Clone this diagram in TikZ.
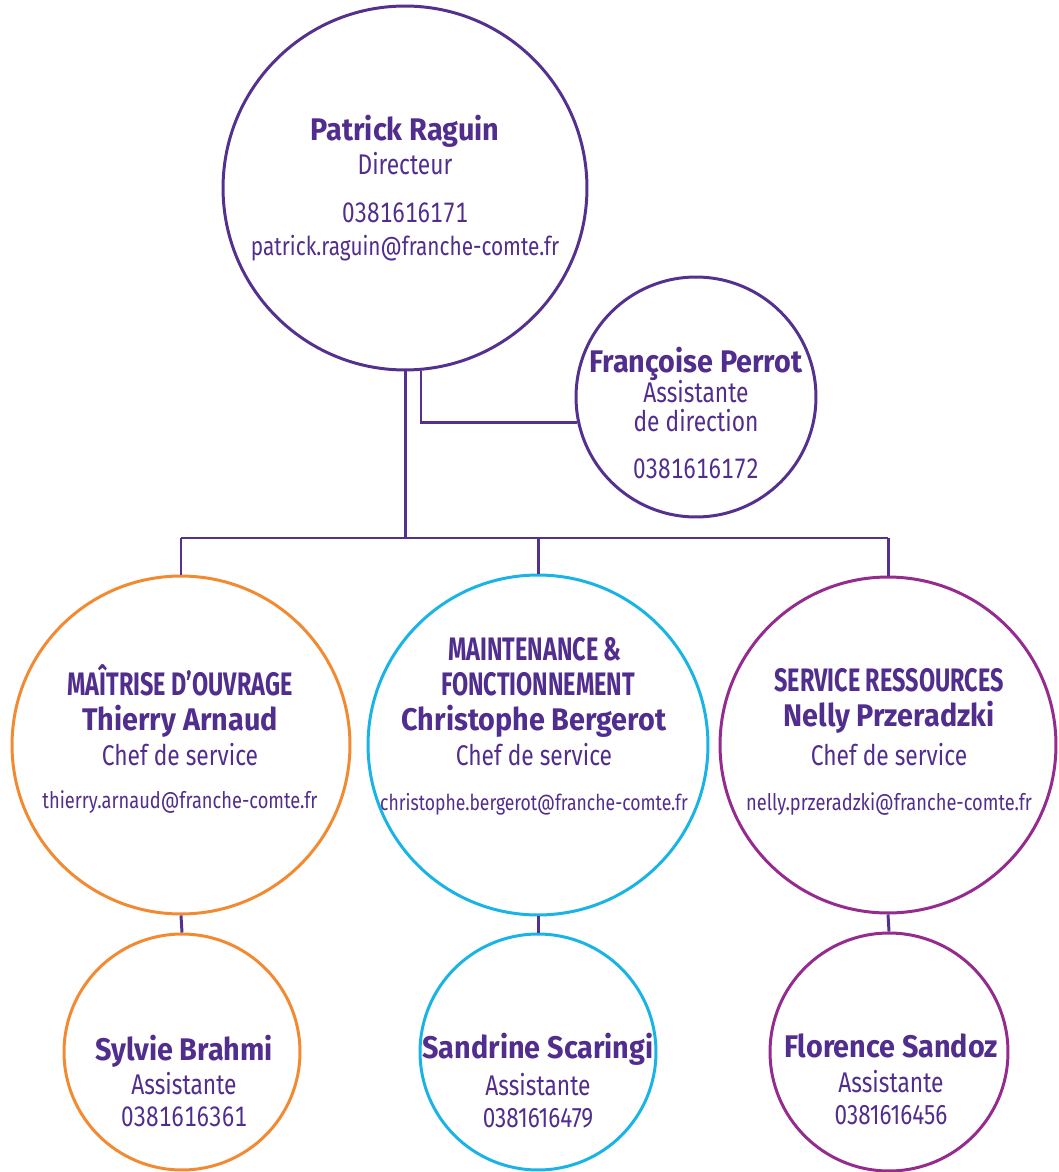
\documentclass[tikz,border=0pt]{standalone}
\usepackage{fontspec}
\setmainfont{Fira Sans}
\newfontfamily\regf[FakeStretch=0.8]{Fira Sans}
\newfontfamily\tabf[FakeStretch=0.8,Numbers=Monospaced]{Fira Sans}
\newfontfamily\namef[FakeStretch=0.92]{Fira Sans}
\newfontfamily\headf[FakeStretch=0.72]{Fira Sans}
\definecolor{txt}{HTML}{512D8D}
\definecolor{lnp}{HTML}{54318F}
\definecolor{org}{HTML}{F28A32}
\definecolor{cyn}{HTML}{1AB3E6}
\definecolor{mag}{HTML}{952A8F}
\tikzset{
 circ/.style={circle, draw, line width=1.7pt, inner sep=0pt, minimum size=#1},
 conn/.style={draw=lnp, line width=1.7pt},
 nm/.style={text=txt, anchor=base, inner sep=0pt, font=\namef\bfseries\fontsize{17.8}{20}\selectfont},
 rl/.style={text=txt, anchor=base, inner sep=0pt, font=\regf\fontsize{16.2}{19}\selectfont},
 hd/.style={text=txt, anchor=base, inner sep=0pt, font=\headf\bfseries\fontsize{18.5}{21}\selectfont},
 ml/.style={text=txt, anchor=base, inner sep=0pt, font=\regf\fontsize{13}{16}\selectfont},
 ph/.style={text=txt, anchor=base, inner sep=0pt, font=\regf\fontsize{16}{18}\selectfont},
 pht/.style={text=txt, anchor=base, inner sep=0pt, font=\tabf\fontsize{16}{18}\selectfont},
}
\begin{document}
\begin{tikzpicture}[x=0.02cm,y=-0.02cm]
\useasboundingbox (0,0) rectangle (1058,1172);
% circles
\node[circ=7.28cm, draw=lnp] (top) at (405,188) {};
\node[circ=4.8cm, draw=lnp] (fr) at (696,397) {};
\node[circ=6.76cm, draw=org] (A) at (181,745) {};
\node[circ=6.8cm, draw=cyn] (B) at (538,745) {};
\node[circ=6.72cm, draw=mag] (C) at (888,745) {};
\node[circ=4.72cm, draw=org] (A2) at (182,1052) {};
\node[circ=4.72cm, draw=cyn] (B2) at (538,1052) {};
\node[circ=4.76cm, draw=mag] (C2) at (889,1052) {};
% connectors
\coordinate (bus) at (405,538);
\coordinate (busL) at (181,538);
\coordinate (busR) at (888,538);
\draw[conn] (top.south) -- (bus);
\draw[conn] (top.-85.3) |- (fr.192);
\draw[conn] (busL) -- (busR);
\draw[conn] (A.north) -- (busL);
\draw[conn] (B.north) -- (B.north |- bus);
\draw[conn] (C.north) -- (busR);
\draw[conn] (A.south) -- (A2.north);
\draw[conn] (B.south) -- (B2.north);
\draw[conn] (C.south) -- (C2.north);
% top texts
\node[nm] (t1) at (405,141) {Patrick Raguin};
\node[rl] (t2) at (405,175) {Directeur};
\node[pht] (t3) at (405,223) {0381616171};
\node[ml, font=\regf\fontsize{14.8}{17}\selectfont] (t4) at (405,256) {patrick.raguin@franche-comte.fr};
% Francoise
\node[nm] (f1) at (696,372) {Françoise Perrot};
\node[rl] (f2) at (696,402) {Assistante};
\node[rl] (f3) at (696,431) {de direction};
\node[pht] (f4) at (696,478) {0381616172};
% A
\node[hd] (a1) at (180,695) {MAÎTRISE D’OUVRAGE};
\node[nm] (a2) at (180,730) {Thierry Arnaud};
\node[rl] (a3) at (180,765) {Chef de service};
\node[ml] (a4) at (180,808) {thierry.arnaud@franche-comte.fr};
% B
\node[hd] (b0) at (535,660) {MAINTENANCE \&};
\node[hd] (b1) at (538,695) {FONCTIONNEMENT};
\node[nm] (b2) at (534,730) {Christophe Bergerot};
\node[rl] (b3) at (534,765) {Chef de service};
\node[ml, font=\regf\fontsize{12.5}{15}\selectfont] (b4) at (534,810) {christophe.bergerot@franche-comte.fr};
% C
\node[hd] (c1) at (889,691) {SERVICE RESSOURCES};
\node[nm] (c2) at (889,726) {Nelly Przeradzki};
\node[rl] (c3) at (889,765) {Chef de service};
\node[ml] (c4) at (889,810) {nelly.przeradzki@franche-comte.fr};
% bottom
\node[nm] (a21) at (184,1060) {Sylvie Brahmi};
\node[rl] (a22) at (184,1094) {Assistante};
\node[pht] (a23) at (184,1126) {0381616361};
\node[nm] (b21) at (538,1058) {Sandrine Scaringi};
\node[rl] (b22) at (538,1095) {Assistante};
\node[ph] (b23) at (538,1127) {0381616479};
\node[nm] (c21) at (891,1057) {Florence Sandoz};
\node[rl] (c22) at (891,1092) {Assistante};
\node[ph] (c23) at (891,1124) {0381616456};
\end{tikzpicture}
\end{document}
